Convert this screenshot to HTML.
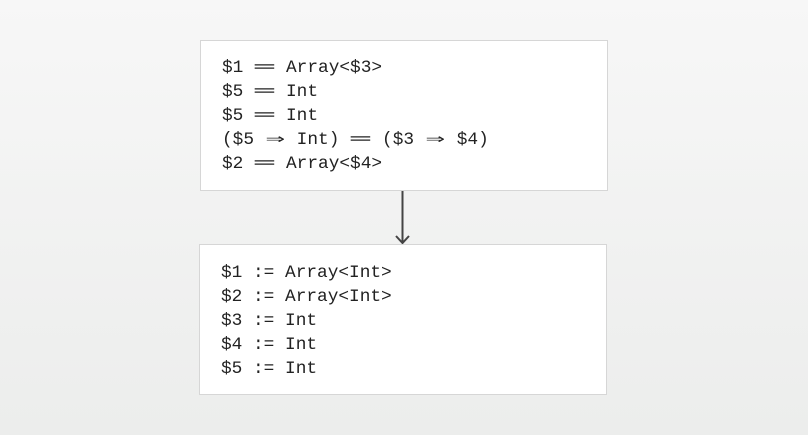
<!DOCTYPE html>
<html><head><style>
html,body{margin:0;padding:0}
body{width:808px;height:435px;background:linear-gradient(#f7f7f7,#ecedec);position:relative;overflow:hidden;font-family:"Liberation Mono",monospace}
.box{position:absolute;background:#fff;border:1px solid #d6d6d6;box-sizing:border-box}
.t{position:absolute;left:21px;font-size:17.8px;line-height:24px;color:#222;white-space:pre}
.w{display:inline-block;width:2ch;text-align:center}
.w b{display:inline-block;font-weight:normal;transform:scaleX(1.8)}
</style></head><body>
<div class="box" style="left:200px;top:40px;width:408px;height:151px">
<div class="t" style="top:15px">$1 <span class="w"><b>═</b></span> Array&lt;$3&gt;
$5 <span class="w"><b>═</b></span> Int
$5 <span class="w"><b>═</b></span> Int
($5 <span class="w"><b>⇒</b></span> Int) <span class="w"><b>═</b></span> ($3 <span class="w"><b>⇒</b></span> $4)
$2 <span class="w"><b>═</b></span> Array&lt;$4&gt;</div></div>
<svg style="position:absolute;left:0;top:0" width="808" height="435">
<line x1="402.5" y1="191" x2="402.5" y2="242" stroke="#444" stroke-width="2"/>
<polyline points="396,236 402.5,243 409,236" fill="none" stroke="#444" stroke-width="2"/>
</svg>
<div class="box" style="left:199px;top:244px;width:408px;height:151px">
<div class="t" style="top:16px">$1 := Array&lt;Int&gt;
$2 := Array&lt;Int&gt;
$3 := Int
$4 := Int
$5 := Int</div></div>
</body></html>
